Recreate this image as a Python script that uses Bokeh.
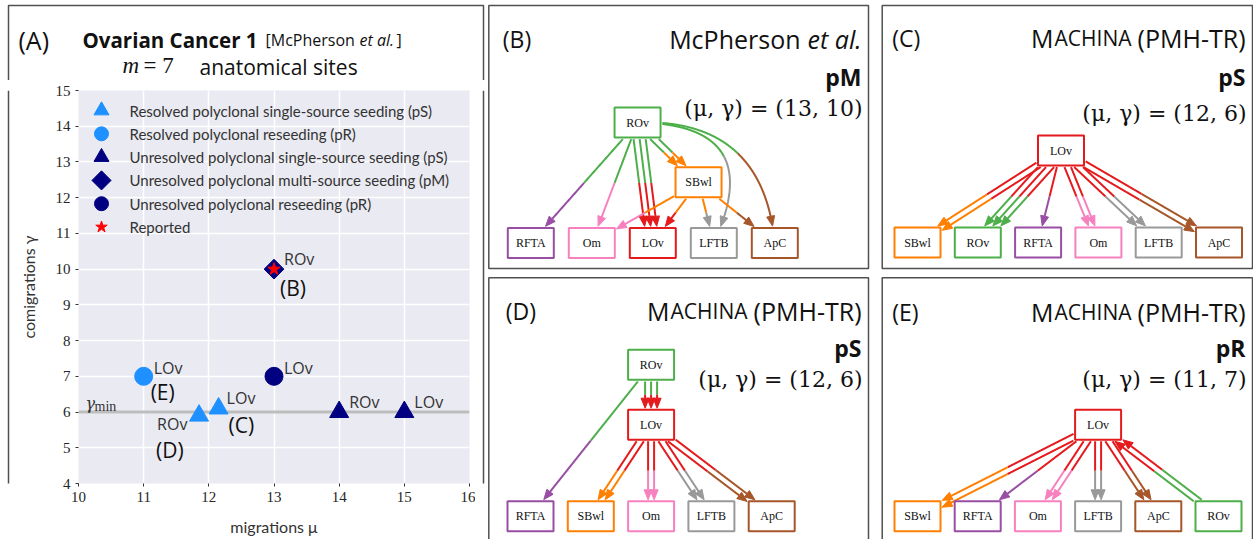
import numpy as np
from bokeh.core.properties import value
from bokeh.embed import file_html
from bokeh.layouts import column, row
from bokeh.models import ColumnDataSource, FixedTicker, Range1d, Span
from bokeh.plotting import figure
from bokeh.resources import INLINE

# ------------------------------------------------------------------
# (A) migrations / comigrations of the migration histories
# ------------------------------------------------------------------
migrations = [11, 12, 12, 13, 13, 14, 15]
comigrations = [7, 6, 6, 7, 10, 6, 6]
pattern = ["pR", "pS", "pS", "pR", "pM", "pS", "pS"]
resolved = [True, True, True, False, False, False, False]
primary_site = ["LOv", "ROv", "LOv", "LOv", "ROv", "ROv", "LOv"]
panel_ref = ["(E)", "(D)", "(C)", "", "(B)", "", ""]
reported_migrations = [13]
reported_comigrations = [10]
gamma_min = 6
x_ticks = [10, 11, 12, 13, 14, 15, 16]
y_ticks = [4, 5, 6, 7, 8, 9, 10, 11, 12, 13, 14, 15]

# small display nudges separating the two histories that share (12, 6)
nudge_mu = [0, -0.15, 0.15, 0, 0, 0, 0]
nudge_gamma = [0, -0.1, 0.1, 0, 0, 0, 0]

# pixel offsets of site names and panel references next to the markers
name_dx = [10, -42, 8, 10, 10, 10, 10]
name_dy = [-8, 8, -10, -8, -10, -10, -10]
ref_dx = [7, -43, 10, 0, 6, 0, 0]
ref_dy = [16, 34, 17, 0, 19, 0, 0]

legend_entries = [
    ("Resolved polyclonal single-source seeding (pS)", True, "pS", "triangle"),
    ("Resolved polyclonal reseeding (pR)", True, "pR", "circle"),
    ("Unresolved polyclonal single-source seeding (pS)", False, "pS", "triangle"),
    ("Unresolved polyclonal multi-source seeding (pM)", False, "pM", "square"),
    ("Unresolved polyclonal reseeding (pR)", False, "pR", "circle"),
]

# ------------------------------------------------------------------
# (B)-(E) migration graphs: edge lists with multiplicities
# ------------------------------------------------------------------
site_color = {"LOv": "#e41a1c", "ROv": "#4daf4a", "RFTA": "#984ea3", "SBwl": "#ff7f00",
              "Om": "#f781bf", "LFTB": "#999999", "ApC": "#a65628"}

B_src = ["ROv", "ROv", "ROv", "ROv", "ROv", "ROv", "SBwl", "SBwl", "SBwl", "SBwl"]
B_dst = ["RFTA", "Om", "LOv", "SBwl", "LFTB", "ApC", "Om", "LOv", "LFTB", "ApC"]
B_mult = [1, 1, 3, 2, 1, 1, 1, 1, 1, 1]

C_src = ["LOv", "LOv", "LOv", "LOv", "LOv", "LOv"]
C_dst = ["SBwl", "ROv", "RFTA", "Om", "LFTB", "ApC"]
C_mult = [2, 3, 1, 2, 2, 2]

D_src = ["ROv", "ROv", "LOv", "LOv", "LOv", "LOv"]
D_dst = ["LOv", "RFTA", "SBwl", "Om", "LFTB", "ApC"]
D_mult = [3, 1, 2, 2, 2, 2]

E_src = ["LOv", "LOv", "LOv", "LOv", "LOv", "ROv"]
E_dst = ["SBwl", "RFTA", "Om", "LFTB", "ApC", "LOv"]
E_mult = [2, 1, 2, 2, 2, 2]

# ------------------------------------------------------------------
# styling / layout constants
# ------------------------------------------------------------------
W_TOTAL, H_TOTAL = 1253, 539
BOX = "#505050"
SANS = "Open Sans"
LIGHT, NAVY = "#1e90ff", "#000080"


def canvas(x0, y0, w, h):
    """A bare figure whose frame is the whole canvas, in page-like pixel units."""
    p = figure(width=w, height=h, x_range=Range1d(x0, x0 + w), y_range=Range1d(y0 + h, y0),
               x_axis_type=None, y_axis_type=None, toolbar_location=None,
               output_backend="svg", min_border=0, outline_line_color=None)
    return p


def put(p, x, y, txt, size, font=SANS, style="normal", align="left",
        baseline="alphabetic", color="#111111"):
    p.text(x=[x], y=[y], text=[txt], text_font=value(font), text_font_size=f"{size}px",
           text_font_style=style, text_align=align, text_baseline=baseline, text_color=color)


# ---------------- panel A: heading strip ----------------
A_L, A_R, A_T = 8, 483, 5
TITLE_H = 80
STRIP_L_W, PLOT_W, STRIP_R_W = 10, 465, 10

ta = canvas(0, 0, STRIP_L_W + PLOT_W + STRIP_R_W, TITLE_H)
ta.line([A_L, A_L, A_R, A_R], [TITLE_H, A_T, A_T, TITLE_H], line_color=BOX, line_width=1.5)
put(ta, 18, 39, "(A)", 25)
put(ta, 82, 39, "Ovarian Cancer 1", 20.5, style="bold")
put(ta, 265, 39, "[McPherson", 16)
put(ta, 359, 39, "et al.", 16, style="italic")
put(ta, 396, 39, "]", 16)
put(ta, 122, 65, "m", 23, font="Liberation Serif", style="italic")
put(ta, 143, 65, "= 7", 23, font="Liberation Serif")
put(ta, 199, 66, "anatomical sites", 21)

ls = canvas(0, TITLE_H, STRIP_L_W, H_TOTAL - TITLE_H)
ls.line([A_L, A_L], [TITLE_H, H_TOTAL + 20], line_color=BOX, line_width=1.5)
rs = canvas(STRIP_L_W + PLOT_W, TITLE_H, STRIP_R_W, H_TOTAL - TITLE_H)
rs.line([A_R, A_R], [TITLE_H, H_TOTAL + 20], line_color=BOX, line_width=1.5)

# ---------------- panel A: scatter ----------------
FRAME_W, FRAME_H = 391, 393
pa = figure(width=PLOT_W, height=H_TOTAL - TITLE_H,
            x_range=Range1d(x_ticks[0], x_ticks[-1]), y_range=Range1d(y_ticks[0], y_ticks[-1]),
            toolbar_location=None, output_backend="svg",
            min_border_left=68, min_border_right=6, min_border_top=10, min_border_bottom=56,
            background_fill_color="#eaeaf2", outline_line_color=None,
            x_axis_label="migrations μ", y_axis_label="comigrations γ")
pa.xaxis.ticker = FixedTicker(ticks=x_ticks)
pa.yaxis.ticker = FixedTicker(ticks=y_ticks)
for ax in (pa.xaxis[0], pa.yaxis[0]):
    ax.axis_line_color = None
    ax.major_tick_line_color = "#333333"
    ax.major_tick_out = 3
    ax.major_tick_in = 0
    ax.minor_tick_line_color = None
    ax.major_label_text_font = "Liberation Serif"
    ax.major_label_text_font_size = "15px"
    ax.major_label_text_color = "#262626"
    ax.axis_label_text_font = "Lato"
    ax.axis_label_text_font_size = "16px"
    ax.axis_label_text_font_style = "normal"
    ax.axis_label_text_color = "#333333"
pa.yaxis.axis_label_standoff = 15
pa.xaxis.axis_label_standoff = 12
pa.grid.grid_line_color = "white"
pa.grid.grid_line_width = 1.5

pa.add_layout(Span(location=gamma_min, dimension="width", line_color="#bdbdbd",
                   line_width=3, level="underlay"))
pa.text(x=[x_ticks[0]], y=[gamma_min], text=["γ"], x_offset=7, y_offset=-9,
        text_font=value("DejaVu Serif"), text_font_style="italic", text_font_size="16px",
        text_baseline="alphabetic", text_color="#333333")
pa.text(x=[x_ticks[0]], y=[gamma_min], text=["min"], x_offset=16, y_offset=-6,
        text_font=value("Liberation Serif"), text_font_size="14px",
        text_baseline="alphabetic", text_color="#333333")

# legend drawn in frame pixel units (origin at the frame's top-left corner)
pa.extra_x_ranges = {"key": Range1d(0, FRAME_W)}
pa.extra_y_ranges = {"key": Range1d(FRAME_H, 0)}
KEY_X, KEY_TEXT_X, KEY_Y0, KEY_DY = 23, 51, 20, 23.3

marker_size = {"triangle": 19, "circle": 18, "square": 14}
key_size = {"triangle": 15, "circle": 14, "square": 13.5}
n = len(migrations)
key_labels, key_rows = [], []
for row_i, (label, res, pat, marker) in enumerate(legend_entries):
    idx = [i for i in range(n) if resolved[i] == res and pattern[i] == pat]
    src = ColumnDataSource(dict(x=[migrations[i] + nudge_mu[i] for i in idx],
                                y=[comigrations[i] + nudge_gamma[i] for i in idx]))
    col = LIGHT if res else NAVY
    ang = np.pi / 4 if marker == "square" else 0.0
    pa.scatter("x", "y", source=src, marker=marker, size=marker_size[marker],
               fill_color=col, line_color=col, angle=ang)
    pa.scatter([KEY_X], [KEY_Y0 + row_i * KEY_DY], marker=marker, size=key_size[marker],
               fill_color=col, line_color=col, angle=ang,
               x_range_name="key", y_range_name="key")
    key_labels.append(label)
    key_rows.append(KEY_Y0 + row_i * KEY_DY)
pa.scatter(reported_migrations, reported_comigrations, marker="star", size=13,
           fill_color="red", line_color="red")
star_row = KEY_Y0 + len(legend_entries) * KEY_DY
pa.scatter([KEY_X], [star_row], marker="star", size=12, fill_color="red", line_color="red",
           x_range_name="key", y_range_name="key")
key_labels.append("Reported")
key_rows.append(star_row)
pa.text(x=[KEY_TEXT_X] * len(key_labels), y=key_rows, text=key_labels,
        x_range_name="key", y_range_name="key", text_font=value("Lato"),
        text_font_size="15px", text_baseline="middle", text_color="#333333")

xs_shown = [migrations[i] + nudge_mu[i] for i in range(n)]
ys_shown = [comigrations[i] + nudge_gamma[i] for i in range(n)]
pa.text("x", "y", text="t", x_offset="dx", y_offset="dy",
        source=ColumnDataSource(dict(x=xs_shown, y=ys_shown, t=primary_site,
                                     dx=name_dx, dy=name_dy)),
        text_font=value(SANS), text_font_size="16px", text_baseline="middle",
        text_color="#333333")
ri = [i for i in range(n) if panel_ref[i]]
pa.text("x", "y", text="t", x_offset="dx", y_offset="dy",
        source=ColumnDataSource(dict(x=[xs_shown[i] for i in ri], y=[ys_shown[i] for i in ri],
                                     t=[panel_ref[i] for i in ri],
                                     dx=[ref_dx[i] for i in ri], dy=[ref_dy[i] for i in ri])),
        text_font=value(SANS), text_font_size="21px", text_baseline="middle",
        text_color="#111111")

# ---------------- migration graph panels ----------------
NODE_W, NODE_H = 46, 30
EDGE_GAP = 6
HEAD_L, HEAD_HW = 10, 4


def in_box(pts, c):
    return (np.abs(pts[:, 0] - c[0]) <= NODE_W / 2 + 1.5) & \
           (np.abs(pts[:, 1] - c[1]) <= NODE_H / 2 + 1.5)


def diagram(x0, y0, w, h, box, slots, levels, slot_x0, slot_gap, src, dst, mult, bends):
    p = canvas(x0, y0, w, h)
    l, r, t, b = box
    p.quad(left=[l], right=[r], top=[t], bottom=[b], fill_color=None,
           line_color=BOX, line_width=1.5)
    pos = {s: np.array([l + slot_x0 + sl * slot_gap, t + levels[lv]])
           for s, (sl, lv) in slots.items()}

    lx, ly, lc, hx, hy, hc = [], [], [], [], [], []
    tt = np.linspace(0, 1, 500)[:, None]
    for s, d, k, bend in zip(src, dst, mult, bends):
        p0, p2 = pos[s], pos[d]
        v = p2 - p0
        u = v / np.hypot(*v)
        nrm = np.array([u[1], -u[0]])
        for j in range(k):
            off = (j - (k - 1) / 2) * EDGE_GAP * nrm
            a, c = p0 + off, p2 + off
            m = (p0 + p2) / 2 + bend * nrm + off
            pts = (1 - tt) ** 2 * a + 2 * (1 - tt) * tt * m + tt ** 2 * c
            pts = pts[~(in_box(pts, p0) | in_box(pts, p2))]
            seg = np.hypot(*np.diff(pts, axis=0).T)
            cum = np.concatenate([[0.0], np.cumsum(seg)])
            total = cum[-1]
            tip = pts[-1]
            jb = int(np.searchsorted(cum, total - HEAD_L))
            dv = tip - pts[jb]
            dv = dv / np.hypot(*dv)
            base = tip - HEAD_L * dv
            pn = np.array([-dv[1], dv[0]])
            jh = int(np.searchsorted(cum, total / 2))
            first = pts[:jh + 1]
            second = np.vstack([pts[jh:jb], base])
            lx += [list(first[:, 0]), list(second[:, 0])]
            ly += [list(first[:, 1]), list(second[:, 1])]
            lc += [site_color[s], site_color[d]]
            hx.append([tip[0], base[0] + HEAD_HW * pn[0], base[0] - HEAD_HW * pn[0]])
            hy.append([tip[1], base[1] + HEAD_HW * pn[1], base[1] - HEAD_HW * pn[1]])
            hc.append(site_color[d])

    p.multi_line("xs", "ys", line_color="c", line_width=2,
                 source=ColumnDataSource(dict(xs=lx, ys=ly, c=lc)))
    names = list(slots)
    node_src = ColumnDataSource(dict(x=[pos[s][0] for s in names], y=[pos[s][1] for s in names],
                                     c=[site_color[s] for s in names], t=names))
    p.rect("x", "y", width=NODE_W, height=NODE_H, fill_color="white", line_color="c",
           line_width=2, source=node_src)
    p.patches("xs", "ys", fill_color="c", line_color="c", line_width=1,
              source=ColumnDataSource(dict(xs=hx, ys=hy, c=hc)))
    p.text("x", "y", text="t", source=node_src, text_font=value("Liberation Serif"),
           text_font_size="12px", text_align="center", text_baseline="middle",
           text_color="#111111")
    return p


def headings(p, box, ref, tag_dx, ys, author):
    l, r, t, b = box
    R = r - 7
    i = panel_ref.index(ref)
    put(p, l + tag_dx, t + ys[0], ref, 23)
    if author:
        put(p, R, t + ys[0], "et al.", 25, style="italic", align="right")
        put(p, R - 61, t + ys[0], "McPherson", 25, align="right")
    else:
        put(p, R, t + ys[0], "(PMH-TR)", 25, align="right")
        put(p, R - 114, t + ys[0], "ACHINA", 21, align="right")
        put(p, R - 192, t + ys[0], "M", 25, align="right")
    put(p, R, t + ys[1], pattern[i], 23, style="bold", align="right")
    put(p, R + 1, t + ys[2], f"(μ, γ) = ({migrations[i]}, {comigrations[i]})", 22,
        font="DejaVu Serif", align="right")


box_B = (488.3, 868, 5, 268)
pB = diagram(485, 0, 390, 272, box_B,
             {"ROv": (1.75, 0), "SBwl": (2.75, 1), "RFTA": (0, 2), "Om": (1, 2),
              "LOv": (2, 2), "LFTB": (3, 2), "ApC": (4, 2)},
             [117, 176.7, 237.5], 42, 61, B_src, B_dst, B_mult,
             [0, 0, 0, 0, 110, 86, 0, 0, 0, 0])
headings(pB, box_B, "(B)", 14, (33, 71, 103), True)

box_C = (881.7, 1252, 5, 268)
pC = diagram(875, 0, 378, 272, box_C,
             {"LOv": (2.38, 0), "SBwl": (0, 1), "ROv": (1, 1), "RFTA": (2, 1),
              "Om": (3, 1), "LFTB": (4, 1), "ApC": (5, 1)},
             [145, 237], 35.3, 60.3, C_src, C_dst, C_mult, [0] * len(C_src))
headings(pC, box_C, "(C)", 10, (32.5, 71, 108), False)

box_D = (488.3, 868, 277.3, 560)
pD = diagram(485, 272, 390, 267, box_D,
             {"ROv": (2, 0), "LOv": (2, 1), "RFTA": (0, 2), "SBwl": (1, 2),
              "Om": (2, 2), "LFTB": (3, 2), "ApC": (4, 2)},
             [87, 147, 238.5], 41.7, 60.3, D_src, D_dst, D_mult, [0] * len(D_src))
headings(pD, box_D, "(D)", 17, (33, 70.5, 102), False)

box_E = (881.7, 1252, 277.3, 560)
pE = diagram(875, 272, 378, 267, box_E,
             {"LOv": (3, 0), "SBwl": (0, 1), "RFTA": (1, 1), "Om": (2, 1),
              "LFTB": (3, 1), "ApC": (4, 1), "ROv": (5, 1)},
             [147, 238.5], 35.3, 60.2, E_src, E_dst, E_mult, [0] * len(E_src))
headings(pE, box_E, "(E)", 10, (34, 70.5, 102), False)

layout = row(column(ta, row(ls, pa, rs)), column(row(pB, pC), row(pD, pE)))

open("out.html", "w").write(file_html(layout, INLINE))
